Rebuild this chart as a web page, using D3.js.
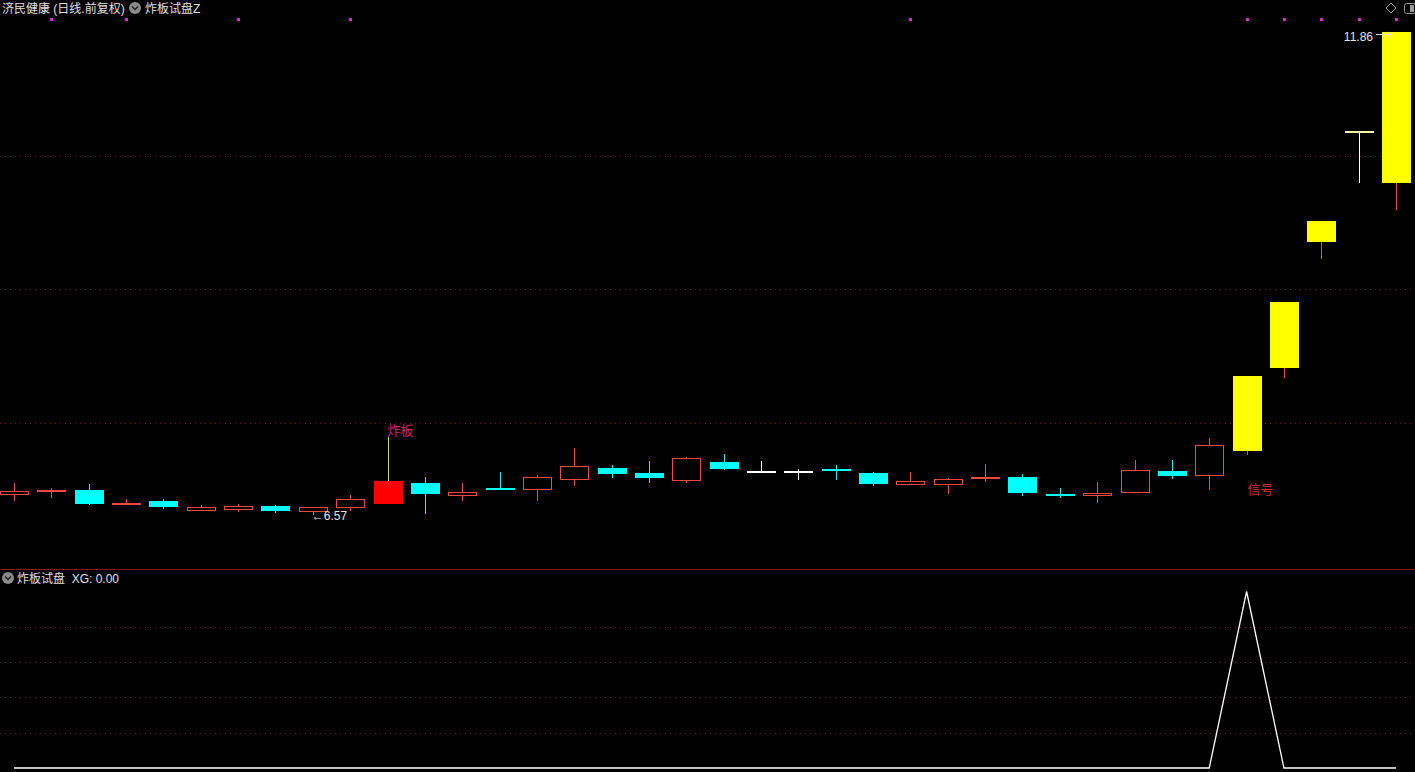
<!DOCTYPE html>
<html><head><meta charset="utf-8">
<script src="https://cdn.jsdelivr.net/npm/d3@7/dist/d3.min.js"></script>
<style>
html,body{margin:0;padding:0;background:#000;overflow:hidden;}
svg{display:block;}
text{font-family:"Liberation Sans","Noto Sans CJK SC",sans-serif;white-space:pre;}
</style></head>
<body>
<svg id="chart" width="1415" height="772"></svg>
<script>
// ---- data ----
const stockTitle = "济民健康 (日线.前复权)";
const formulaTitle = "炸板试盘Z";
const subTitle = "炸板试盘  XG: 0.00";
const opens  = [6.80,6.83,6.84,6.69,6.72,6.62,6.64,6.67,6.61,6.66,6.69,6.92,6.79,6.87,6.85,6.96,7.08,7.03,6.95,7.15,7.04,7.04,7.07,7.03,6.91,6.91,6.97,6.99,6.80,6.79,6.82,7.05,7.01,7.27,8.18,9.56,10.77,10.21];
const highs  = [6.92,6.87,6.91,6.75,6.74,6.68,6.69,6.68,6.66,6.79,7.42,6.99,6.92,7.04,7.01,7.30,7.12,7.16,7.20,7.24,7.16,7.07,7.12,7.04,7.04,6.97,7.13,7.02,6.87,6.93,7.17,7.17,7.41,8.09,8.90,9.79,10.77,11.86];
const lows   = [6.72,6.76,6.68,6.69,6.64,6.62,6.60,6.59,6.57,6.61,6.69,6.58,6.72,6.84,6.72,6.89,6.98,6.92,6.92,7.06,7.04,6.95,6.95,6.89,6.90,6.80,6.93,6.78,6.76,6.70,6.82,6.96,6.84,7.23,8.07,9.37,10.21,9.91];
const closes = [6.83,6.84,6.69,6.70,6.66,6.66,6.67,6.61,6.66,6.74,6.94,6.80,6.82,6.86,6.99,7.11,7.02,6.97,7.19,7.07,7.04,7.04,7.06,6.91,6.94,6.96,6.99,6.81,6.78,6.81,7.06,7.00,7.34,8.09,8.90,9.79,10.77,11.86];
const zhabanDays = [10];              // "炸板" candle
const limitUpDays = [33,34,35,36,37]; // yellow limit-up candles
const signalDay = 33;                 // "信号"
const dotDays = [1,3,6,9,24,33,34,35,36,37];
const xgValues = [0,0,0,0,0,0,0,0,0,0,0,0,0,0,0,0,0,0,0,0,0,0,0,0,0,0,0,0,0,0,0,0,0,1,0,0,0,0];
const priceGrid = [7.58, 9.04, 10.50];
const xgGrid = [0.2, 0.4, 0.6, 0.8];
const lowLabel = "←6.57";
const highLabel = "11.86";

// ---- scales ----
const svg = d3.select("#chart");
const W = 1415, H = 772;
const idx = opens.map((d,i)=>i);
const x = d3.scalePoint().domain(idx).range([14, 1396]);
const y = d3.scaleLinear().domain([d3.min(lows), d3.max(highs)]).range([515, 32]);
const y2 = d3.scaleLinear().domain([0, 1]).range([768, 591.5]);
const hw = 14; // half body width in px
const px = v => Math.round(v) + 0.5;

const UP = "#f24640", DOWN = "#00ffff", FLAT = "#ffffff";

// ---- grid ----
const grid = svg.append("g");
grid.selectAll("line.pg").data(priceGrid).join("line")
  .attr("x1",0).attr("x2",W).attr("y1",d=>px(y(d))).attr("y2",d=>px(y(d)))
  .attr("stroke","#6a2020").attr("stroke-dasharray","1,4");
grid.selectAll("line.xg").data(xgGrid).join("line")
  .attr("x1",0).attr("x2",W).attr("y1",d=>px(y2(d))).attr("y2",d=>px(y2(d)))
  .attr("stroke","#6a2020").attr("stroke-dasharray","1,4");
svg.append("line").attr("x1",0).attr("x2",W).attr("y1",569.5).attr("y2",569.5)
  .attr("stroke","#8a1414");

// ---- candles ----
const g = svg.append("g").attr("shape-rendering","crispEdges");
function fillRect(x0, y0, w, h, col){
  g.append("rect").attr("x",x0).attr("y",y0).attr("width",w).attr("height",h).attr("fill",col);
}
function vline(cx, y1, y2v, col){
  const a = Math.round(Math.min(y1,y2v)), b = Math.round(Math.max(y1,y2v));
  if (b>a) fillRect(cx, a, 1, b-a, col);
}
idx.forEach(i=>{
  const o=opens[i], c=closes[i], h=highs[i], l=lows[i];
  const cx = Math.round(x(i));
  const top = Math.round(Math.min(y(o),y(c))), bot = Math.round(Math.max(y(o),y(c)));
  const isZ = zhabanDays.includes(i), isL = limitUpDays.includes(i);
  const col = c>o ? UP : (c<o ? DOWN : FLAT);
  if (isZ) {
    vline(cx, y(h), top, "#bde44c");
    if (l<Math.min(o,c)) vline(cx, bot, y(l), "#ff0000");
    fillRect(cx-hw, top, 2*hw+1, bot-top, "#ff0000");
    return;
  }
  if (isL) {
    const wc = (o===c) ? "#ffffff" : UP;
    if (h>Math.max(o,c)) vline(cx, y(h), top, wc);
    vline(cx, bot, y(l), wc);
    if (bot-top<1.5) fillRect(cx-hw, top-1, 2*hw+1, 2, "#eef3a0");
    else fillRect(cx-hw, top, 2*hw+1, bot-top, "#ffff00");
    return;
  }
  if (h>Math.max(o,c)) vline(cx, y(h), top, col);
  if (l<Math.min(o,c)) vline(cx, bot, y(l), col);
  if (c>o) {
    const hgt = Math.max(2, bot-top+1);
    fillRect(cx-hw, top, 2*hw+1, 1, col);
    fillRect(cx-hw, top+hgt-1, 2*hw+1, 1, col);
    fillRect(cx-hw, top, 1, hgt, col);
    fillRect(cx+hw, top, 1, hgt, col);
  } else if (c<o) {
    fillRect(cx-hw, top, 2*hw+1, Math.max(2,bot-top), col);
  } else {
    fillRect(cx-hw, top-1, 2*hw+1, 2, col);
  }
});

// ---- labels ----
zhabanDays.forEach(i=>{
  svg.append("text").attr("x",x(i)).attr("y",y(highs[i])-2).attr("fill","#de1f72")
    .attr("font-size",13).text("炸板");
});
svg.append("text").attr("x",x(signalDay)+1).attr("y",y(lows[signalDay])+39).attr("fill","#d42a2a")
  .attr("font-size",13).text("信号");
const iLow = lows.indexOf(d3.min(lows));
svg.append("text").attr("x",x(iLow)-1).attr("y",y(lows[iLow])+5).attr("fill","#e6e6e6")
  .attr("font-size",12).text(lowLabel);
const iHigh = highs.indexOf(d3.max(highs));
const hx = Math.round(x(iHigh)), hy = Math.round(y(highs[iHigh]));
svg.append("text").attr("x",hx-23).attr("y",hy+9).attr("fill","#e6e6e6")
  .attr("text-anchor","end").attr("font-size",12).text(highLabel);
svg.append("line").attr("x1",hx-20).attr("x2",hx-4).attr("y1",hy+2.5).attr("y2",hy+2.5).attr("stroke","#e6e6e6");
svg.append("path").attr("d",`M${hx-4},${hy+2.5} L${hx-8},${hy} M${hx-4},${hy+2.5} L${hx-8},${hy+5}`).attr("stroke","#e6e6e6").attr("fill","none");

// magenta dots
svg.append("g").selectAll("rect").data(dotDays).join("rect")
  .attr("x",d=>Math.round(x(d))-1).attr("y",18).attr("width",3).attr("height",3).attr("fill","#d030d0");

// ---- XG line ----
svg.append("path").datum(xgValues)
  .attr("d", d3.line().x((d,i)=>x(i)).y(d=>y2(d)))
  .attr("fill","none").attr("stroke","#ffffff").attr("stroke-width",1.3);

// ---- header ----
function chevronIcon(cx, cy){
  const ic = svg.append("g");
  ic.append("circle").attr("cx",cx).attr("cy",cy).attr("r",6).attr("fill","#8a8a8a");
  ic.append("path").attr("d",`M${cx-3},${cy-1.5} L${cx},${cy+1.5} L${cx+3},${cy-1.5}`)
    .attr("fill","none").attr("stroke","#202020").attr("stroke-width",1.5);
}
svg.append("text").attr("x",2).attr("y",13).attr("fill","#e0e0e0").attr("font-size",12).text(stockTitle);
chevronIcon(135, 8);
svg.append("text").attr("x",145).attr("y",13).attr("fill","#e0e0e0").attr("font-size",12).text(formulaTitle);
chevronIcon(8, 578);
svg.append("text").attr("x",17).attr("y",582.5).attr("fill","#e0e0e0").attr("font-size",12).text(subTitle);
svg.append("path").attr("d","M1391,3 L1396,8 L1391,13 L1386,8 Z").attr("fill","none").attr("stroke","#9a9a9a");
svg.append("rect").attr("x",1404.5).attr("y",3.5).attr("width",11).attr("height",10).attr("rx",2).attr("fill","none").attr("stroke","#9a9a9a");
svg.append("rect").attr("x",1410).attr("y",5).attr("width",4).attr("height",7).attr("fill","#9a9a9a");
</script>
</body></html>
